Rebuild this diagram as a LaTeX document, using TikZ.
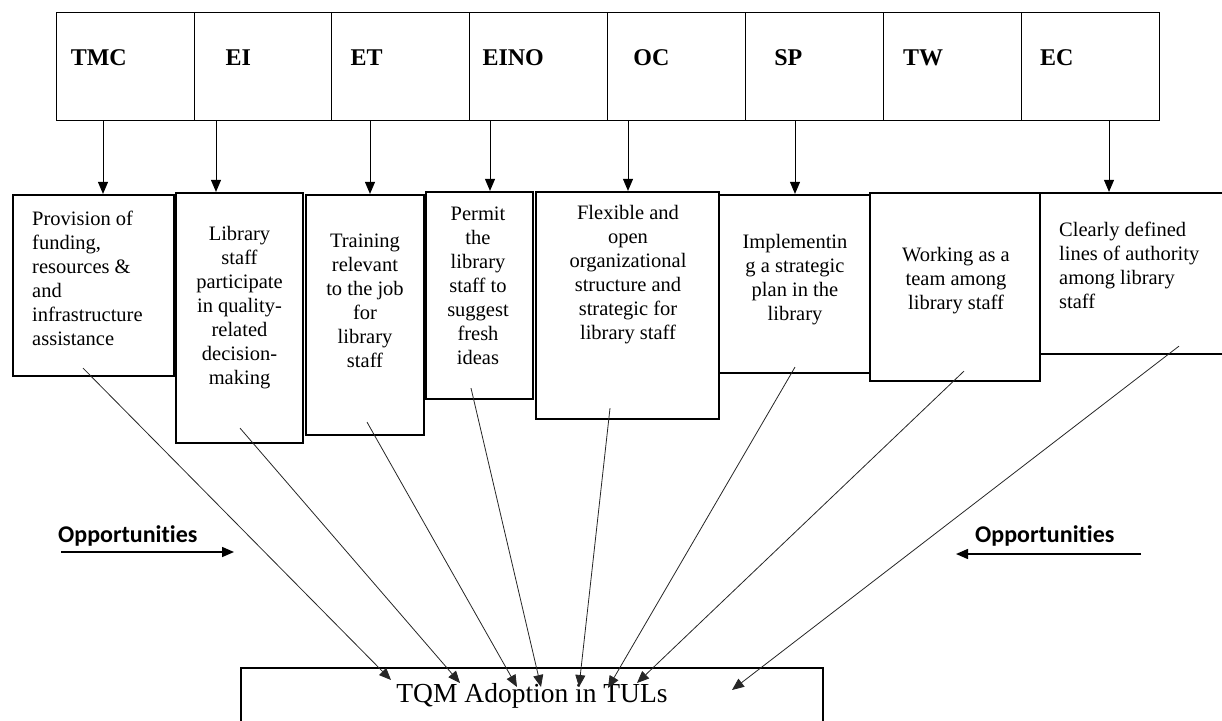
\documentclass[tikz,border=0pt]{standalone}
\usepackage{fontspec}
\setmainfont{Liberation Serif}
\newfontfamily\oppfont[Ligatures=NoCommon]{Carlito}
\usetikzlibrary{arrows.meta}

\begin{document}
\begin{tikzpicture}[x=1pt,y=-1pt,
  cell/.style={draw,line width=0.8pt,minimum width=137.9pt,minimum height=108pt,inner sep=0pt},
  toplbl/.style={font=\fontsize{24}{28}\selectfont\bfseries,inner sep=0pt,anchor=base west},
  box/.style={draw,line width=2.2pt,inner sep=0pt},
  txt/.style={font=\fontsize{20.5}{24}\selectfont,inner sep=0pt,anchor=north,align=center},
  opp/.style={font=\oppfont\bfseries\fontsize{24}{28}\selectfont,inner sep=0pt,anchor=base west},
  >={Triangle[length=12pt,width=10pt]}]
\useasboundingbox (0,0) rectangle (1222,720);

% factor row
\foreach \n/\t/\o [count=\i] in {tmc/TMC/15,ei/EI/32,et/ET/19,eino/EINO/13,oc/OC/26,sp/SP/29,tw/TW/20,ec/EC/19}{
  \node[cell] (\n) at ({56+68.95+137.9*(\i-1)},66) {};
  \node[toplbl] at ([xshift=\o pt]\n.west |- 0,65) {\t};
}

% description boxes
\node[box,minimum width=161pt,minimum height=181pt] (b1) at (93.5,285.5) {};
\node[box,minimum width=127pt,minimum height=250pt] (b2) at (239.5,318) {};
\node[box,minimum width=118pt,minimum height=240pt] (b3) at (365,315) {};
\node[box,minimum width=107pt,minimum height=207pt] (b4) at (479.5,295.5) {};
\node[box,minimum width=183pt,minimum height=227pt] (b5) at (627.5,305.5) {};
\node[box,minimum width=151pt,minimum height=178pt] (b6) at (794.5,284) {};
\node[box,minimum width=170pt,minimum height=188pt] (b7) at (955,287) {};
\node[box,minimum width=186pt,minimum height=161pt] (b8) at (1133,273.5) {};

\node[txt,anchor=north west,align=left] at (32,211) {Provision of\\funding,\\resources \&\\and\\infrastructure\\assistance};
\node[txt] at (239.5,226) {Library\\staff\\participate\\in quality-\\related\\decision-\\making};
\node[txt] at (365,234) {Training\\relevant\\to the job\\for\\library\\staff};
\node[txt] at (478,207) {Permit\\the\\library\\staff to\\suggest\\fresh\\ideas};
\node[txt] at (628,205) {Flexible and\\open\\organizational\\structure and\\strategic for\\library staff};
\node[txt] at (795,234) {Implementin\\g a strategic\\plan in the\\library};
\node[txt] at (956,247) {Working as a\\team among\\library staff};
\node[txt,anchor=north west,align=left] at (1059,222) {Clearly defined\\lines of authority\\among library\\staff};

% outcome box
\node[draw,line width=2pt,minimum width=582pt,minimum height=70pt,inner sep=0pt,anchor=north] (tqm) at (532,667) {};
\node[font=\fontsize{27.5}{32}\selectfont,inner sep=0pt,anchor=base] at (532,702) {TQM Adoption in TULs};

% opportunities
\node[opp] (oppl) at (58,542) {Opportunities};
\node[opp] (oppr) at (975,542) {Opportunities};
\coordinate (oppl1) at (61,552);
\coordinate (oppl2) at (234,552);
\coordinate (oppr1) at (1141,554);
\coordinate (oppr2) at (956,554);
\draw[->,line width=1.5pt] (oppl1) -- (oppl2);
\draw[->,line width=1.5pt] (oppr1) -- (oppr2);

% arrows down to the boxes
\foreach \c/\b/\x in {tmc/1/103,ei/2/216,et/3/370,eino/4/490,oc/5/628,sp/6/795,ec/8/1109}
  \draw[->,line width=0.9pt] (\c.south -| \x,0) -- (b\b.north -| \x,0);

% arrows into TQM adoption
\foreach \i/\sx/\sy/\ex/\ey in {1/-10.5/9/-141/-13,2/0.5/16/-72/-16,3/2/14/-15/-20,4/-8.5/12/9/-20,
    5/-17.5/12/47/-20,6/0.5/7/76/-21,7/9/11/105/-16,8/46/9/200/-23}
  \draw[->,line width=0.8pt,black!85] ([xshift=\sx pt,yshift=\sy pt]b\i.south) -- ([xshift=\ex pt,yshift=\ey pt]tqm.north);
\end{tikzpicture}
\end{document}
